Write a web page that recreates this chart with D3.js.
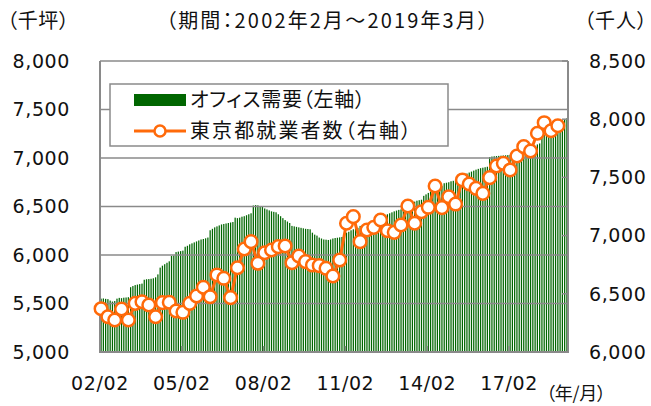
<!DOCTYPE html>
<html><head><meta charset="utf-8">
<script src="https://cdn.jsdelivr.net/npm/d3@7/dist/d3.min.js"></script>
<style>
body{margin:0;background:#fff;}
.jp{font-family:"Noto Sans CJK JP","Noto Sans",sans-serif;font-feature-settings:"palt";}
.num{font-family:"DejaVu Sans",Verdana,sans-serif;}
</style></head>
<body><svg id="c" width="651" height="406"></svg>
<script>
// Office demand (thousand tsubo), monthly 2002/02 - 2019/03 (206 months)
const officeDemand = [
5550,5552,5548,5545,5530,5520,5525,5550,5558,5555,5560,5562,
5565,5668,5680,5690,5695,5700,5705,5745,5750,5752,5755,5760,
5770,5800,5870,5890,5905,5920,5935,5990,5995,6030,6035,6040,
6045,6085,6095,6110,6120,6130,6140,6150,6160,6165,6172,6180,
6255,6270,6285,6295,6305,6315,6320,6325,6330,6335,6340,6385,
6380,6385,6395,6400,6410,6420,6430,6510,6515,6512,6505,6495,
6480,6470,6460,6450,6445,6440,6420,6400,6380,6360,6345,6330,
6300,6295,6290,6285,6280,6275,6270,6268,6265,6230,6210,6200,
6180,6170,6160,6158,6155,6160,6170,6175,6178,6182,6186,6190,
6230,6240,6255,6265,6275,6280,6300,6305,6310,6315,6320,6325,
6330,6335,6338,6340,6342,6345,6420,6430,6440,6450,6458,6465,
6470,6480,6510,6520,6530,6540,6550,6560,6565,6570,6610,6625,
6640,6655,6670,6690,6700,6705,6710,6740,6745,6750,6760,6765,
6770,6775,6805,6815,6830,6840,6850,6860,6870,6880,6888,6895,
6900,6905,6910,7010,7015,7018,7020,7022,7024,7026,7028,7030,
7032,7035,7040,7045,7050,7060,7070,7080,7090,7100,7110,7120,
7140,7150,7220,7240,7260,7280,7300,7320,7340,7360,7375,7390,
7400,7410
];
// Tokyo employed persons (thousand), quarterly, plotted every 3 months from 2002/02
const employed = [
6372,6303,6275,6369,6275,6418,6432,6404,6303,6424,6427,6352,
6341,6418,6481,6556,6475,6662,6633,6467,6724,6885,6948,6762,
6853,6876,6905,6911,6767,6825,6776,6747,6742,6719,6653,6790,
7106,7163,6948,7048,7071,7134,7042,7028,7091,7254,7106,7205,
7243,7426,7240,7334,7271,7478,7443,7406,7363,7498,7598,7621,
7564,7684,7764,7727,7879,7970,7901,7944
];
const xTickLabels = ["02/02","05/02","08/02","11/02","14/02","17/02"];
const xTickMonths = [0,36,72,108,144,180];
const leftTicks = [5000,5500,6000,6500,7000,7500,8000];
const rightTicks = [6000,6500,7000,7500,8000,8500];
const seriesNames = ["オフィス需要（左軸）","東京都就業者数（右軸）"];
const titleText = "（期間：2002年2月～2019年3月）";
const leftUnit = "（千坪）", rightUnit = "（千人）", xUnit = "（年/月）";

const svg = d3.select("#c");
svg.append("rect").attr("width",651).attr("height",406).attr("fill","#fff");
const L=100,R=568,T=61,B=352;
const GREEN="#006600", ORANGE="#ff6a0a", GRID="#8a8a8a";

const x = d3.scaleBand().domain(d3.range(officeDemand.length)).range([L,R]).paddingInner(0.45).paddingOuter(0.2);
const step = x.step();
const yL = d3.scaleLinear().domain([5000,8000]).range([B,T]);
const yR = d3.scaleLinear().domain([6000,8500]).range([B,T]);

// bars
svg.append("g").selectAll("rect").data(officeDemand).join("rect")
  .attr("x",(d,i)=>x(i)).attr("width",x.bandwidth())
  .attr("y",d=>yL(d)).attr("height",d=>B-yL(d)).attr("fill",GREEN);

// gridlines
svg.append("g").selectAll("line").data(leftTicks.slice(1)).join("line")
  .attr("x1",L).attr("x2",R).attr("y1",d=>yL(d)).attr("y2",d=>yL(d))
  .attr("stroke",GRID).attr("stroke-width",1.5);

// axes lines
const ax = svg.append("g").attr("stroke",GRID).attr("stroke-width",2).attr("fill","none");
ax.append("line").attr("x1",L).attr("x2",L).attr("y1",T).attr("y2",B);
ax.append("line").attr("x1",R).attr("x2",R).attr("y1",T).attr("y2",B);
ax.append("line").attr("x1",L-1).attr("x2",R+1).attr("y1",B).attr("y2",B);
// right ticks (inward)
svg.append("g").selectAll("line").data(rightTicks).join("line")
  .attr("x1",R-6).attr("x2",R).attr("y1",d=>yR(d)).attr("y2",d=>yR(d))
  .attr("stroke",GRID).attr("stroke-width",1.5);
// bottom ticks (inward)
const xpos = m => L + m*step;
svg.append("g").selectAll("line").data(xTickMonths.slice(1)).join("line")
  .attr("x1",d=>xpos(d)).attr("x2",d=>xpos(d)).attr("y1",B).attr("y2",B-6)
  .attr("stroke",GRID).attr("stroke-width",1.5);

// employed line
const px = (d,i)=> x(i*3) + x.bandwidth()/2;
svg.append("path").datum(employed)
  .attr("d", d3.line().x(px).y(d=>yR(d)))
  .attr("fill","none").attr("stroke",ORANGE).attr("stroke-width",3);
svg.append("g").selectAll("circle").data(employed).join("circle")
  .attr("cx",px).attr("cy",d=>yR(d)).attr("r",6.3)
  .attr("fill","#fff").attr("stroke",ORANGE).attr("stroke-width",2.5);

// axis labels
const fmt = d3.format(",");
svg.append("g").selectAll("text").data(leftTicks).join("text").attr("class","num")
  .attr("x",70).attr("y",d=>yL(d)).attr("dy","0.36em").attr("text-anchor","end")
  .attr("font-size",19).attr("letter-spacing",0.6).attr("fill","#111").text(d=>fmt(d));
svg.append("g").selectAll("text").data(rightTicks).join("text").attr("class","num")
  .attr("x",589).attr("y",d=>yR(d)).attr("dy","0.36em").attr("text-anchor","start")
  .attr("font-size",19).attr("letter-spacing",0.6).attr("fill","#111").text(d=>fmt(d));
svg.append("g").selectAll("text").data(xTickLabels).join("text").attr("class","num")
  .attr("x",(d,i)=>xpos(xTickMonths[i])).attr("y",390).attr("text-anchor","middle")
  .attr("font-size",19).attr("letter-spacing",0.6).attr("fill","#111").text(d=>d);

const jt = (txt,xx,yy,fs,len)=> svg.append("text").attr("class","jp").attr("x",xx).attr("y",yy)
  .attr("font-size",fs).attr("fill","#111").attr("textLength",len).attr("lengthAdjust","spacing").text(txt);
jt(titleText,166,28,20,322);
jt(leftUnit,7,28,20,62);
jt(rightUnit,584,28,20,63);
jt(xUnit,546,400,18,60);

// legend
const lg = svg.append("g");
lg.append("rect").attr("x",110).attr("y",84).attr("width",338).attr("height",62)
  .attr("fill","#fff").attr("stroke",GRID).attr("stroke-width",1.5);
lg.append("rect").attr("x",134).attr("y",94).attr("width",52).attr("height",12).attr("fill",GREEN);
lg.append("line").attr("x1",134).attr("x2",186).attr("y1",131).attr("y2",131)
  .attr("stroke",ORANGE).attr("stroke-width",3);
lg.append("circle").attr("cx",160).attr("cy",131).attr("r",5.5)
  .attr("fill","#fff").attr("stroke",ORANGE).attr("stroke-width",2.5);
lg.selectAll("text.lt").data(seriesNames).join("text").attr("class","jp lt")
  .attr("x",190).attr("y",(d,i)=>i?138:107).attr("font-size",20).attr("fill","#111")
  .attr("textLength",(d,i)=>i?221:175).attr("lengthAdjust","spacing").text(d=>d);
</script></body></html>
